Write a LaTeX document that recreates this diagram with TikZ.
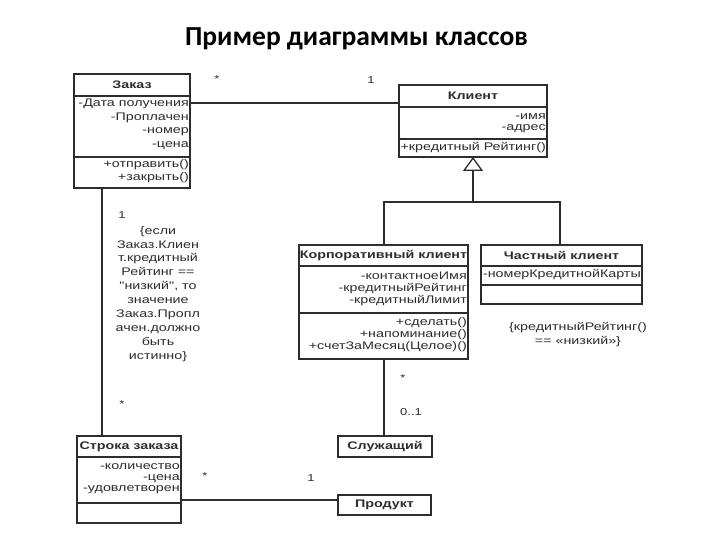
\documentclass[tikz,border=0pt]{standalone}
\usepackage{fontspec}
\setmainfont{Liberation Sans}
\newfontfamily\umlfont[FakeStretch=1.3]{Liberation Sans}
\newfontfamily\titlefont{Carlito}
\usetikzlibrary{arrows.meta}
\definecolor{ink}{RGB}{45,45,45}
\tikzset{
  classbox/.style={draw=ink, line width=1.3pt, inner sep=0pt, outer sep=0pt, anchor=north west, fill=white},
  sepline/.style={draw=ink, line width=1.1pt},
  conn/.style={draw=ink, line width=1.3pt},
  hdr/.style={font=\umlfont\bfseries\fontsize{11}{13}\selectfont, text=ink, inner sep=0pt},
  attr/.style={font=\umlfont\fontsize{11}{13}\selectfont, text=ink, inner sep=0pt, anchor=east},
  mult/.style={font=\umlfont\fontsize{10}{12}\selectfont, text=ink, inner sep=0pt},
  note/.style={font=\umlfont\fontsize{11}{13.9}\selectfont, text=ink, inner sep=0pt, align=center, anchor=north},
}
\begin{document}
\begin{tikzpicture}[x=1pt,y=-1pt]
\fill[white] (0,0) rectangle (720,540);
\useasboundingbox (0,0) rectangle (720,540);

% title
\node[font=\titlefont\bfseries\fontsize{27.5}{32}\selectfont, anchor=base, inner sep=0pt] (title) at (356.5,45.5) {Пример диаграммы классов};

% ---- Заказ
\node[classbox, minimum width=116pt, minimum height=114pt] (zakaz) at (74,74) {};
\draw[sepline] (zakaz.west |- 0,96) -- (zakaz.east |- 0,96);
\draw[sepline] (zakaz.west |- 0,157) -- (zakaz.east |- 0,157);
\node[hdr] (zakazH) at (132,85) {Заказ};
\node[attr] (z1) at (189,104) {-Дата получения};
\node[attr] (z2) at (189,118) {-Проплачен};
\node[attr] (z3) at (189,132) {-номер};
\node[attr] (z4) at (189,146) {-цена};
\node[attr] (z5) at (189,165) {+отправить()};
\node[attr] (z6) at (189,178) {+закрыть()};

% ---- Клиент
\node[classbox, minimum width=148pt, minimum height=72pt] (klient) at (399,85) {};
\draw[sepline] (klient.west |- 0,107) -- (klient.east |- 0,107);
\draw[sepline] (klient.west |- 0,139) -- (klient.east |- 0,139);
\node[hdr] (klientH) at (473,96) {Клиент};
\node[attr] (k1) at (546,117) {-имя};
\node[attr] (k2) at (546,129) {-адрес};
\node[attr] (k3) at (546,148) {+кредитный Рейтинг()};

% ---- Корпоративный клиент
\node[classbox, minimum width=169pt, minimum height=114pt] (korp) at (299,245) {};
\draw[sepline] (korp.west |- 0,266) -- (korp.east |- 0,266);
\draw[sepline] (korp.west |- 0,313) -- (korp.east |- 0,313);
\node[hdr] (korpH) at (383.5,256) {Корпоративный клиент};
\node[attr] (c1) at (467,276) {-контактноеИмя};
\node[attr] (c2) at (467,288.5) {-кредитныйРейтинг};
\node[attr] (c3) at (467,301) {-кредитныйЛимит};
\node[attr] (c4) at (467,323) {+сделать()};
\node[attr] (c5) at (467,335) {+напоминание()};
\node[attr] (c6) at (467,347) {+счетЗаМесяц(Целое)()};

% ---- Частный клиент
\node[classbox, minimum width=161pt, minimum height=59pt] (chast) at (481,245) {};
\draw[sepline] (chast.west |- 0,266) -- (chast.east |- 0,266);
\draw[sepline] (chast.west |- 0,285) -- (chast.east |- 0,285);
\node[hdr] (chastH) at (561.5,255.5) {Частный клиент};
\node[attr] (p1) at (641,274.5) {-номерКредитнойКарты};

% ---- Строка заказа
\node[classbox, minimum width=104pt, minimum height=87pt] (stroka) at (77,436) {};
\draw[sepline] (stroka.west |- 0,457) -- (stroka.east |- 0,457);
\draw[sepline] (stroka.west |- 0,503) -- (stroka.east |- 0,503);
\node[hdr] (strokaH) at (129,446.5) {Строка заказа};
\node[attr] (s1) at (180,467) {-количество};
\node[attr] (s2) at (180,478.5) {-цена};
\node[attr] (s3) at (180,490) {-удовлетворен};

% ---- Служащий
\node[classbox, minimum width=94pt, minimum height=21pt] (sluzh) at (338,436) {};
\node[hdr] (sluzhH) at (sluzh.center) {Служащий};

% ---- Продукт
\node[classbox, minimum width=93pt, minimum height=20pt] (prod) at (338,495) {};
\node[hdr] (prodH) at (prod.center) {Продукт};

% ---- connectors
\draw[conn] (zakaz.east |- 0,103) -- (klient.west |- 0,103);
\node[mult] (m1) at (217,79) {*};
\node[mult] (m2) at (371,80) {1};

\draw[conn] (zakaz.south -| 102,0) -- (stroka.north -| 102,0);
\node[mult] (m3) at (122,215) {1};
\node[mult] (m4) at (122,404) {*};

\draw[conn] (stroka.east |- 0,500) -- (prod.west |- 0,500);
\node[mult] (m5) at (205,476) {*};
\node[mult] (m6) at (311,478) {1};

\draw[conn] (korp.south -| 384,0) -- (sluzh.north -| 384,0);
\node[mult] (m7) at (403,378) {*};
\node[mult] (m8) at (411,412) {0..1};

\coordinate (gen) at (473,202);
\draw[conn] (korp.north -| 384,0) |- (gen) -| (chast.north -| 560,0);
\draw[conn, -{Triangle[open, width=20pt, length=14pt]}] (gen) -- (klient.south);

% ---- notes
\node[note] (n1) at (158,226) {\{если\\Заказ.Клиен\\т.кредитный\\Рейтинг ==\\"низкий", то\\значение\\Заказ.Пропл\\ачен.должно\\быть\\истинно\}};
\node[note] (n2) at (578,322) {\{кредитныйРейтинг()\\== «низкий»\}};
\end{tikzpicture}
\end{document}
